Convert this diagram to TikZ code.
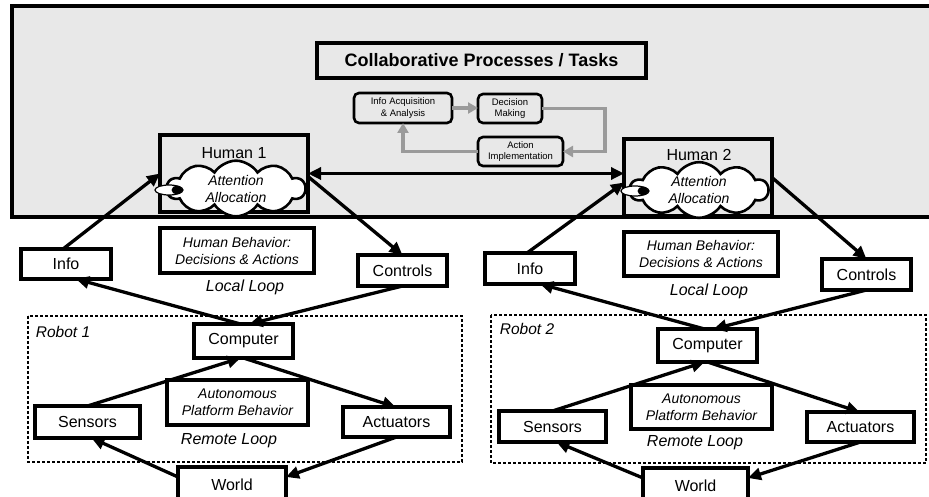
\documentclass[tikz,border=0pt]{standalone}
\usepackage{fontspec}
\setmainfont{Liberation Sans}
\usetikzlibrary{shapes.symbols,shapes.geometric,arrows.meta}
\definecolor{panel}{HTML}{E8E8E8}
\definecolor{flow}{HTML}{9A9A9A}
\begin{document}
\begin{tikzpicture}[x=1pt,y=-1pt,
  box/.style={draw=black,line width=3.2pt,inner sep=0pt,outer sep=0pt,align=center,font=\fontsize{16}{18}\selectfont},
  wbox/.style={box,fill=white},
  itbox/.style={wbox,font=\itshape\fontsize{14}{17}\selectfont},
  small/.style={draw=black,line width=2.6pt,rounded corners=5pt,inner sep=0pt,outer sep=0pt,align=center,font=\fontsize{9.5}{11.5}\selectfont},
  itlab/.style={inner sep=0pt,font=\itshape\fontsize{16}{18}\selectfont},
  cloudnode/.style={cloud,cloud puffs=10,cloud puff arc=115,aspect=2.9,draw=black,line width=2.6pt,fill=white,inner sep=0pt,align=center,font=\itshape\fontsize{14}{17}\selectfont},
  arr/.style={draw=black,line width=3.3pt,-{Triangle[length=13pt,width=12pt]}},
  darr/.style={draw=black,line width=3.3pt,{Triangle[length=13pt,width=12pt]}-{Triangle[length=13pt,width=12pt]}},
  garr/.style={draw=flow,line width=3.2pt,-{Triangle[length=10pt,width=11pt]}},
  robot/.style={draw=black,line width=2.8pt,dash pattern=on 3pt off 2pt}]
\useasboundingbox (0,0) rectangle (929,497);

% collaborative panel
\draw[fill=panel,line width=4pt] (11.5,6.5) -- (945,6.5) -- (945,217) -- (11.5,217) -- cycle;

\node[box,line width=3.4pt,minimum width=329pt,minimum height=35pt,font=\bfseries\fontsize{18}{20}\selectfont] (title) at (481.5,60.5) {Collaborative Processes / Tasks};

\node[small,minimum width=98pt,minimum height=30pt] (ia) at (403,108) {Info Acquisition\\\& Analysis};
\node[small,minimum width=64pt,minimum height=29pt] (dm) at (510,108.5) {Decision\\Making};
\node[small,minimum width=85pt,minimum height=29pt] (ai) at (520.5,151.5) {Action\\Implementation};
\coordinate (rr) at (605,0);
\draw[garr] (ia.east) -- (ia.east -| dm.west);
\draw[garr] (dm.east) -- (dm.east -| rr) -- (rr |- ai.east) -- (ai.east);
\draw[garr] (ai.west) -- (ai.west -| ia.south) -- (ia.south);

% humans
\node[box,minimum width=148pt,minimum height=77pt] (h1) at (234,173.5) {};
\node[inner sep=0pt,font=\fontsize{16}{18}\selectfont] (h1t) at (234,153) {Human 1};
\node[cloudnode,minimum width=138pt,minimum height=47pt] (c1) at (236,188.5) {Attention\\Allocation};
\node[ellipse,draw=black,line width=1.2pt,fill=white,minimum width=28pt,minimum height=10pt,inner sep=0pt] (b1) at (169,190) {};
\node[ellipse,fill=black,minimum width=11pt,minimum height=9pt,inner sep=0pt] (d1) at (177,190) {};

\node[box,minimum width=148pt,minimum height=77pt] (h2) at (698,177.5) {};
\node[inner sep=0pt,font=\fontsize{16}{18}\selectfont] (h2t) at (699,155) {Human 2};
\node[cloudnode,minimum width=138pt,minimum height=46pt] (c2) at (699,190) {Attention\\Allocation};
\node[ellipse,draw=black,line width=1.2pt,fill=white,minimum width=28pt,minimum height=10pt,inner sep=0pt] (b2) at (635,191) {};
\node[ellipse,fill=black,minimum width=11pt,minimum height=9pt,inner sep=0pt] (d2) at (643,191) {};

% ---------- side 1
\node[wbox,minimum width=90pt,minimum height=30pt] (info1) at (66,264) {Info};
\node[itbox,minimum width=154pt,minimum height=45pt] (hb1) at (237,250.5) {Human Behavior:\\Decisions \& Actions};
\node[wbox,minimum width=89pt,minimum height=31pt] (ctl1) at (402.5,270.5) {Controls};
\node[itlab] (ll1) at (245,287) {Local Loop};
\draw[robot] (28,316) rectangle (462,462);
\node[itlab,font=\itshape\fontsize{15.5}{18}\selectfont] (r1) at (63,332) {Robot 1};
\node[wbox,minimum width=99pt,minimum height=34pt] (comp1) at (243.5,341) {Computer};
\node[itbox,minimum width=141pt,minimum height=45pt] (apb1) at (237.5,402.5) {Autonomous\\Platform Behavior};
\node[wbox,minimum width=105pt,minimum height=32pt] (sens1) at (87.5,422) {Sensors};
\node[wbox,minimum width=107pt,minimum height=30pt] (act1) at (396.5,422) {Actuators};
\node[itlab] (rl1) at (229,441) {Remote Loop};
\node[wbox,minimum width=108pt,minimum height=36pt] (world1) at (232,485) {World};

\draw[arr] ([xshift=-3pt]info1.north) -- (h1.west);
\draw[arr] ([yshift=-3pt]h1.east) -- (ctl1.north);
\draw[arr] ([xshift=-3pt]comp1.north) -- ([xshift=10pt]info1.south);
\draw[arr] (ctl1.south) -- ([xshift=6pt]comp1.north);
\draw[arr] (sens1.north) -- ([xshift=-3pt]comp1.south);
\draw[arr] (comp1.south) -- ([xshift=-1pt]act1.north);
\draw[arr] (act1.south) -- ([yshift=8pt]world1.east);
\draw[arr] ([yshift=8pt]world1.west) -- ([xshift=4pt]sens1.south);

% ---------- side 2
\node[wbox,minimum width=90pt,minimum height=31pt] (info2) at (530,268.5) {Info};
\node[itbox,minimum width=154pt,minimum height=44pt] (hb2) at (701,254) {Human Behavior:\\Decisions \& Actions};
\node[wbox,minimum width=89pt,minimum height=31pt] (ctl2) at (866.5,274.5) {Controls};
\node[itlab] (ll2) at (709,291) {Local Loop};
\draw[robot] (491,315) rectangle (926,463);
\node[itlab,font=\itshape\fontsize{15.5}{18}\selectfont] (r2) at (527,329) {Robot 2};
\node[wbox,minimum width=99pt,minimum height=33pt] (comp2) at (707.5,345.5) {Computer};
\node[itbox,minimum width=141pt,minimum height=44pt] (apb2) at (701.5,407) {Autonomous\\Platform Behavior};
\node[wbox,minimum width=107pt,minimum height=31pt] (sens2) at (552.5,426.5) {Sensors};
\node[wbox,minimum width=107pt,minimum height=30pt] (act2) at (860.5,427) {Actuators};
\node[itlab] (rl2) at (695,443) {Remote Loop};
\node[wbox,minimum width=105pt,minimum height=36pt] (world2) at (695.5,486) {World};

\draw[arr] ([xshift=-3pt]info2.north) -- ([yshift=-5pt]h2.west);
\draw[arr] (h2.east) -- (ctl2.north);
\draw[arr] ([xshift=-3pt]comp2.north) -- ([xshift=10pt]info2.south);
\draw[arr] (ctl2.south) -- ([xshift=6pt]comp2.north);
\draw[arr] (sens2.north) -- ([xshift=-3pt]comp2.south);
\draw[arr] (comp2.south) -- ([xshift=-1pt]act2.north);
\draw[arr] (act2.south) -- ([yshift=8pt]world2.east);
\draw[arr] ([yshift=8pt]world2.west) -- ([xshift=4pt]sens2.south);

% human to human
\draw[darr] (h1.east) -- (h1.east -| h2.west);
\end{tikzpicture}
\end{document}
